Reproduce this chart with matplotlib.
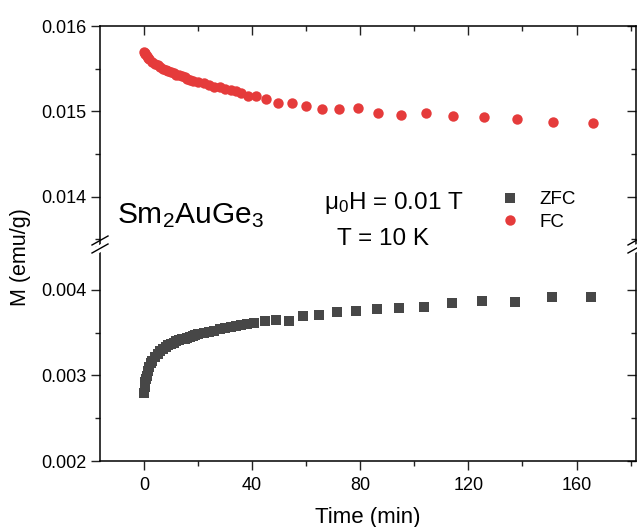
import matplotlib
matplotlib.use("Agg")
import matplotlib.pyplot as plt
from matplotlib.lines import Line2D
from matplotlib.patches import Polygon
from matplotlib.ticker import MultipleLocator

plt.rcParams['font.family'] = ['Liberation Sans', 'DejaVu Sans']
plt.rcParams['mathtext.fontset'] = 'custom'
plt.rcParams['mathtext.rm'] = 'Liberation Sans'
plt.rcParams['mathtext.it'] = 'Liberation Sans:italic'

# FC (field cooled) - tempo (min) e M (emu/g)
t_fc = [0, 0.25, 0.5, 1, 1.5, 2, 3, 4, 5, 6, 7, 8, 9, 10, 11, 12, 13, 14,
        15, 16, 17, 18, 20, 22, 24, 26, 28, 30, 32, 34, 36,
        38.5, 41.5, 45, 49.5, 54.6, 59.8, 65.7, 72, 79, 86.7, 95.2, 104.4,
        114.4, 125.8, 138, 151.3, 166]
m_fc = [0.01569, 0.01568, 0.01567, 0.01565, 0.01563, 0.01561, 0.01558,
        0.01556, 0.01554, 0.01552, 0.01550, 0.01549, 0.01547, 0.01546,
        0.01545, 0.01543, 0.01542, 0.01541, 0.01540, 0.01538, 0.01537,
        0.01536, 0.01534, 0.01533, 0.01531, 0.01529, 0.01528, 0.01526,
        0.01525, 0.01524, 0.01522,
        0.01518, 0.01518, 0.01515, 0.01510, 0.01510, 0.01506, 0.01503,
        0.01503, 0.01504, 0.01498, 0.01496, 0.01498, 0.01495, 0.01493,
        0.01491, 0.01487, 0.01486]

# ZFC (zero field cooled)
t_zfc = [0, 0.25, 0.5, 0.75, 1, 1.5, 2, 2.5, 3, 4, 5, 6, 7, 8, 9, 10, 11,
         12, 13, 14, 15, 16, 17, 18, 19, 20, 22, 24, 26, 28, 30, 32, 34, 36,
         38, 40.5, 44.6, 48.7, 53.6, 58.7, 64.9, 71.4, 78.4, 86.0, 94.4,
         103.6, 113.8, 125.1, 137.4, 150.9, 165.4]
m_zfc = [0.00280, 0.00286, 0.00292, 0.00296, 0.00299, 0.00305, 0.00310,
         0.00314, 0.00317, 0.00322, 0.00325, 0.00328, 0.00331, 0.00333,
         0.00335, 0.00337, 0.00338, 0.00340, 0.00341, 0.00342, 0.00343,
         0.00344, 0.00345, 0.00346, 0.00347, 0.00348, 0.00349, 0.00351,
         0.00352, 0.00354, 0.00355, 0.00356, 0.00358, 0.00359, 0.00360,
         0.00361, 0.00363, 0.00365, 0.00364, 0.00369, 0.00370, 0.00374,
         0.00375, 0.00378, 0.00379, 0.00380, 0.00385, 0.00387, 0.00386,
         0.00391, 0.00392]

vermelho = '#E53B3B'
cinza = '#474747'

W, H = 637, 527
fig = plt.figure(figsize=(W / 100, H / 100), dpi=100)

x_esq, x_dir = 100, 636
y_topo, y_quebra, y_base = 26, 244.5, 461

ax_top = fig.add_axes([x_esq / W, 1 - y_quebra / H,
                       (x_dir - x_esq) / W, (y_quebra - y_topo) / H])
ax_bot = fig.add_axes([x_esq / W, 1 - y_base / H,
                       (x_dir - x_esq) / W, (y_base - y_quebra) / H])

ax_top.plot(t_fc, m_fc, 'o', color=vermelho, ms=7.5, mew=0, label='FC')
ax_bot.plot(t_zfc, m_zfc, 's', color=cinza, ms=7, mew=0, label='ZFC')

for ax in (ax_top, ax_bot):
    ax.set_xlim(-16.3, 182)
    ax.xaxis.set_major_locator(MultipleLocator(40))
    ax.xaxis.set_minor_locator(MultipleLocator(20))
    ax.yaxis.set_minor_locator(MultipleLocator(0.0005))
    for s in ax.spines.values():
        s.set_linewidth(1.1)
    ax.tick_params(which='both', width=1.0, labelsize=13, color='#222222')
    ax.tick_params(which='major', length=6.5)
    ax.tick_params(which='minor', length=3.5)
    ax.tick_params(axis='y', which='both', left=True, right=True,
                   direction='out', pad=3)

ax_top.set_ylim(0.016 - (y_quebra - y_topo) / 85300, 0.016)
ax_top.set_yticks([0.014, 0.015, 0.016])
ax_top.spines['bottom'].set_visible(False)
ax_top.tick_params(axis='x', which='both', bottom=False, top=True,
                   labelbottom=False, direction='in')

ax_bot.set_ylim(0.002, 0.004 + (290 - y_quebra) / 86000)
ax_bot.set_yticks([0.002, 0.003, 0.004])
ax_bot.spines['top'].set_visible(False)
ax_bot.tick_params(axis='x', which='both', bottom=True, top=False,
                   direction='out', pad=5)

# ticks do lado direito para dentro
for ax in (ax_top, ax_bot):
    for t in ax.yaxis.get_major_ticks() + ax.yaxis.get_minor_ticks():
        t.tick2line.set_marker(matplotlib.lines.TICKLEFT)

# marcas de quebra do eixo
def px(x, y):
    return (x / W, 1 - y / H)

for x0 in (x_esq, x_dir):
    fig.patches.append(Polygon([px(x0 - 8, 249), px(x0 + 8, 240),
                                px(x0 + 8, 248), px(x0 - 8, 257)],
                               closed=True, transform=fig.transFigure,
                               facecolor='white', edgecolor='none', zorder=5))
    for dy in (-4, 4):
        fig.add_artist(Line2D([(x0 - 8) / W, (x0 + 8) / W],
                              [1 - (y_quebra + dy + 4.5) / H,
                               1 - (y_quebra + dy - 4.5) / H],
                              transform=fig.transFigure, color='black',
                              lw=1.0, zorder=6))

fig.text(117 / W, 1 - 223 / H, r'Sm$_2$AuGe$_3$', fontsize=21.5,
         ha='left', va='baseline')
fig.text(394 / W, 1 - 209 / H, '\u03bc$_0$H = 0.01 T', fontsize=17.5,
         ha='center', va='baseline')
fig.text(383 / W, 1 - 245 / H, 'T = 10 K', fontsize=17.5,
         ha='center', va='baseline')

fig.text(21 / W, 1 - 257 / H, 'M (emu/g)', fontsize=15.5, rotation=90,
         ha='center', va='center')
fig.text((x_esq + x_dir) / 2 / W, 1 - 523 / H, 'Time (min)', fontsize=16,
         ha='center', va='baseline')

h_zfc = Line2D([], [], marker='s', ls='none', color=cinza, ms=7, mew=0)
h_fc = Line2D([], [], marker='o', ls='none', color=vermelho, ms=7.5, mew=0)
fig.legend([h_zfc, h_fc], ['ZFC', 'FC'], loc='upper left',
           bbox_to_anchor=(501 / W, 1 - 191 / H), frameon=False,
           fontsize=13.5, handlelength=1.0, handletextpad=1.05,
           labelspacing=0.3, borderpad=0, borderaxespad=0)

fig.savefig('out.png', dpi=100)
